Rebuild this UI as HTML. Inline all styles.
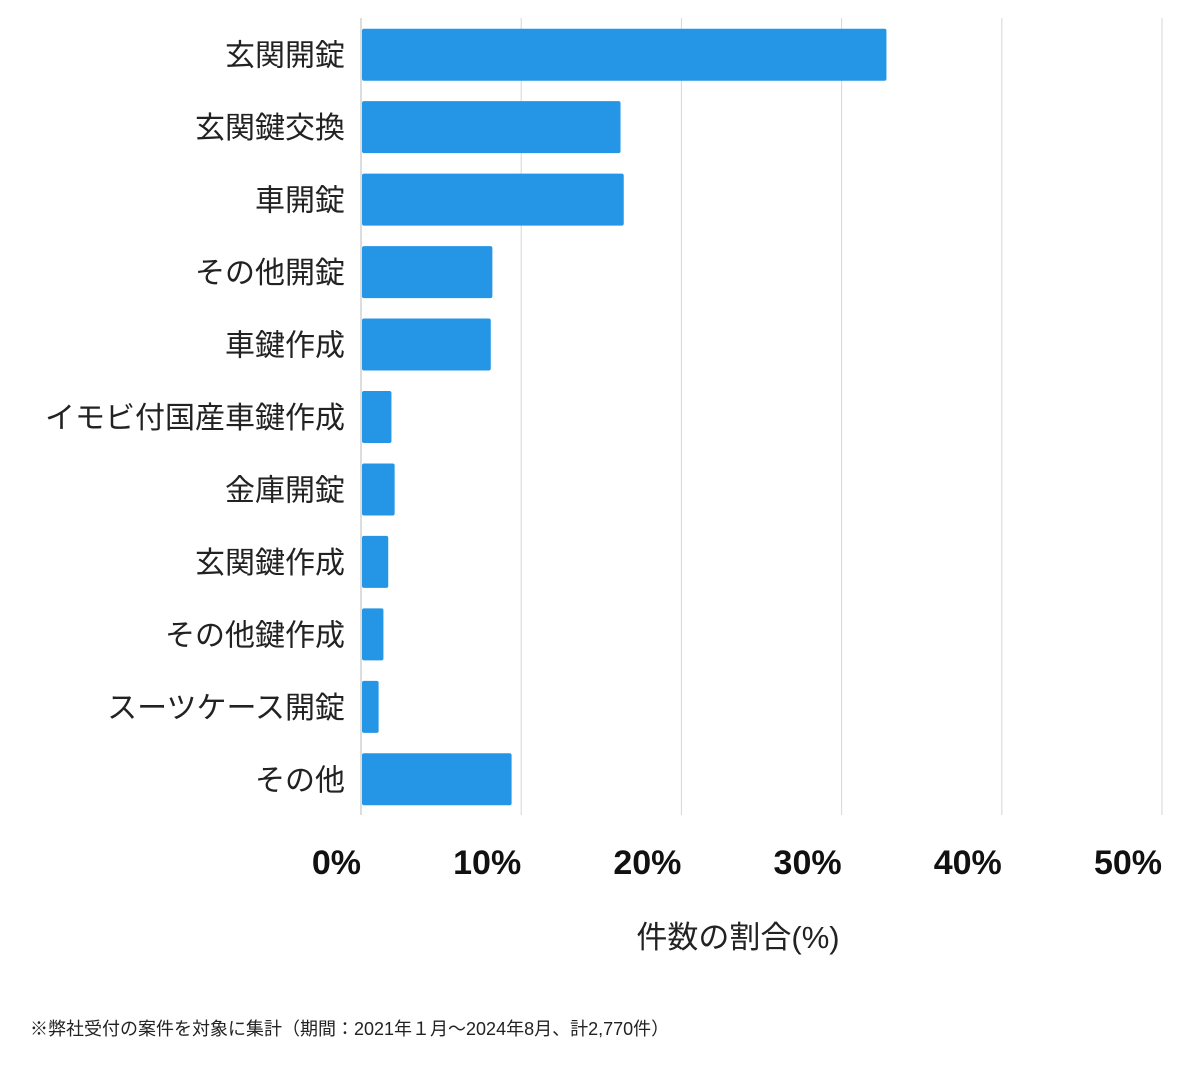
<!DOCTYPE html>
<html><head><meta charset="utf-8"><style>
body{margin:0;background:#fff;}
svg text{font-family:"Liberation Sans","Noto Sans CJK JP",sans-serif;}
</style></head><body>
<svg id="chart" width="1200" height="1069" xmlns="http://www.w3.org/2000/svg">
<g id="grid"></g>
<g id="bars"></g>
<g id="ylabels"></g>
<g id="xticks"></g>
<text x="738" y="948" font-size="31" text-anchor="middle" fill="#222">件数の割合(%)</text>
<text x="30" y="1035" font-size="18" fill="#222">※弊社受付の案件を対象に集計（期間：2021年１月〜2024年8月、計2,770件）</text>
</svg>
<script>
const categories=["玄関開錠","玄関鍵交換","車開錠","その他開錠","車鍵作成","イモビ付国産車鍵作成","金庫開錠","玄関鍵作成","その他鍵作成","スーツケース開錠","その他"];
const values=[32.8,16.2,16.4,8.2,8.1,1.9,2.1,1.7,1.4,1.1,9.4];
const ticks=[0,10,20,30,40,50];
const tickLabels=["0%","10%","20%","30%","40%","50%"];
const NS="http://www.w3.org/2000/svg";
const x0=361,x1=1162,xmax=50,top0=18,bottom=815;
const x=v=>x0+(v/xmax)*(x1-x0);
const band=(bottom-top0)/categories.length;
const yc=i=>top0+band*(i+0.5)+0.5;
function mk(t,a,p){const e=document.createElementNS(NS,t);for(const k in a)e.setAttribute(k,a[k]);p.appendChild(e);return e;}
ticks.forEach((t,i)=>{
  const l=mk('line',{x1:x(t),x2:x(t),y1:top0,y2:bottom,stroke:i==0?'#bbb':'#d6d6d6','stroke-width':1},document.getElementById('grid'));
  
  
  const tx=mk('text',{x:x(t),y:874,'font-size':34,'font-weight':'bold','text-anchor':'end',fill:'#111'},document.getElementById('xticks'));
  tx.textContent=tickLabels[i];
  
  
});
categories.forEach((c,i)=>{
  const r=mk('rect',{x:x0+1,y:yc(i)-26,width:x(values[i])-x0-1,height:52,rx:2,fill:'#2596e6'},document.getElementById('bars'));
  
  
  const t=mk('text',{x:345,y:yc(i)+11,'font-size':30,'text-anchor':'end',fill:'#222'},document.getElementById('ylabels'));
  t.textContent=c;
  
  
});
</script>
</body></html>
